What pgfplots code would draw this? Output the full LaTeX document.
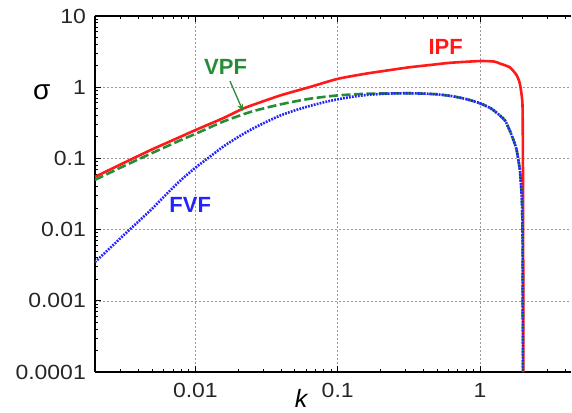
\documentclass[border=0pt]{standalone}
\usepackage{fontspec}
\setmainfont{Liberation Sans}
\newfontfamily\tickfont{Liberation Sans}[FakeStretch=1.12]
\usepackage{pgfplots}
\pgfplotsset{compat=1.18}
\usetikzlibrary{arrows.meta}
\definecolor{ipf}{RGB}{255,25,25}
\definecolor{vpf}{RGB}{40,140,55}
\definecolor{fvf}{RGB}{35,35,255}

\pgfplotstableread{
k s
0.00197 0.055
0.00316 0.087
0.00501 0.135
0.0078 0.200
0.01 0.250
0.0158 0.370
0.0211 0.490
0.0251 0.560
0.0398 0.770
0.0631 1.00
0.1 1.31
0.158 1.55
0.198 1.66
0.316 1.90
0.445 2.05
0.615 2.20
1.0 2.33
1.26 2.29
1.38 2.15
1.62 1.90
1.81 1.47
1.91 1.10
1.98 0.66
1.995 0.40
2.005 0.05
2.012 0.003
2.016 0.0001
}\ipfdata

\pgfplotstableread{
k s
0.00197 0.050
0.00316 0.0785
0.00501 0.120
0.0078 0.179
0.01 0.221
0.0158 0.331
0.0251 0.457
0.0398 0.575
0.0631 0.687
0.1 0.767
0.158 0.809
0.251 0.818
0.316 0.822
0.398 0.813
0.501 0.794
0.631 0.750
0.794 0.684
1.0 0.594
1.2 0.50
1.38 0.40
1.5 0.34
1.62 0.245
1.72 0.18
1.81 0.13
1.91 0.066
1.97 0.026
1.99 0.009
1.998 0.001
2.0 0.0001
}\vpfdata

\pgfplotstableread{
k s
0.00197 0.0035
0.00251 0.0055
0.00316 0.0085
0.00398 0.013
0.00501 0.020
0.00631 0.032
0.00794 0.050
0.01 0.074
0.0126 0.105
0.0158 0.148
0.02 0.200
0.0251 0.260
0.0316 0.327
0.0398 0.403
0.0501 0.473
0.0631 0.543
0.0794 0.612
0.1 0.676
0.126 0.733
0.158 0.776
0.2 0.803
0.251 0.818
0.316 0.822
0.398 0.813
0.501 0.794
0.631 0.750
0.794 0.684
1.0 0.594
1.2 0.50
1.38 0.40
1.5 0.34
1.62 0.245
1.72 0.18
1.81 0.13
1.91 0.066
1.97 0.026
1.99 0.009
1.998 0.001
2.0 0.0001
}\fvfdata

\begin{document}
\begin{tikzpicture}
\begin{axis}[
  scale only axis, width=476pt, height=356pt,
  anchor=south west, at={(0pt,0pt)},
  xmode=log, ymode=log,
  xmin=0.00197, xmax=4.36, ymin=1e-4, ymax=10,
  axis x line*=box, axis y line*=left,
  axis line style={line width=1.8pt, black},
  xtick={0.01,0.1,1}, xticklabels={0.01,0.1,1},
  ytick={0.0001,0.001,0.01,0.1,1,10},
  yticklabels={0.0001,0.001,0.01,0.1,1,10},
  minor xtick={0.002,0.003,0.004,0.005,0.006,0.007,0.008,0.009,0.02,0.03,0.04,0.05,0.06,0.07,0.08,0.09,0.2,0.3,0.4,0.5,0.6,0.7,0.8,0.9,2,3,4},
  minor ytick={0.0002,0.0003,0.0004,0.0005,0.0006,0.0007,0.0008,0.0009,0.002,0.003,0.004,0.005,0.006,0.007,0.008,0.009,0.02,0.03,0.04,0.05,0.06,0.07,0.08,0.09,0.2,0.3,0.4,0.5,0.6,0.7,0.8,0.9,2,3,4,5,6,7,8,9},
  tick align=inside,
  tick style={black, line width=1pt},
  major tick length=6pt, minor tick length=3.5pt,
  grid=major,
  major grid style={dash pattern=on 2pt off 2pt, gray!80, line width=0.6pt},
  /pgf/number format/assume math mode=true,
  ticklabel style={font=\tickfont\fontsize{20.5}{20.5}\selectfont, text=black!85},
  yticklabel style={inner sep=0pt, anchor=east, xshift=-9pt},
  xticklabel style={inner sep=0pt, anchor=north, yshift=-11pt},
  xlabel={\fontsize{25}{25}\selectfont\itshape k},
  xlabel style={at={(axis description cs:0.433,-0.074)}, anchor=center},
  ylabel={\fontsize{28}{28}\selectfont σ},
  ylabel style={at={(axis description cs:-0.112,0.787)}, anchor=center, rotate=-90},
  clip=true,
]
\addplot[ipf, line width=2.6pt, smooth, tension=0.4] table[x=k,y=s] {\ipfdata};
\addplot[vpf, line width=2.6pt, dash pattern=on 9pt off 3.5pt, smooth, tension=0.4] table[x=k,y=s] {\vpfdata};
\addplot[fvf, line width=2.6pt, dash pattern=on 1.8pt off 1.2pt, smooth, tension=0.4] table[x=k,y=s] {\fvfdata};
\node[font=\bfseries\fontsize{22}{22}\selectfont, text=ipf] at (axis cs:0.574,3.67) {IPF};
\node[font=\bfseries\fontsize{22}{22}\selectfont, text=vpf] at (axis cs:0.0163,1.94) {VPF};
\node[font=\bfseries\fontsize{22}{22}\selectfont, text=fvf] at (axis cs:0.0092,0.0219) {FVF};
\draw[vpf, line width=1.3pt, -{Stealth[length=7pt,width=6pt]}] (axis cs:0.0175,1.22) -- (axis cs:0.0216,0.463);
\end{axis}
\pgfresetboundingbox
\path (-95pt,-40pt) rectangle (477pt,372pt);
\end{tikzpicture}
\end{document}
